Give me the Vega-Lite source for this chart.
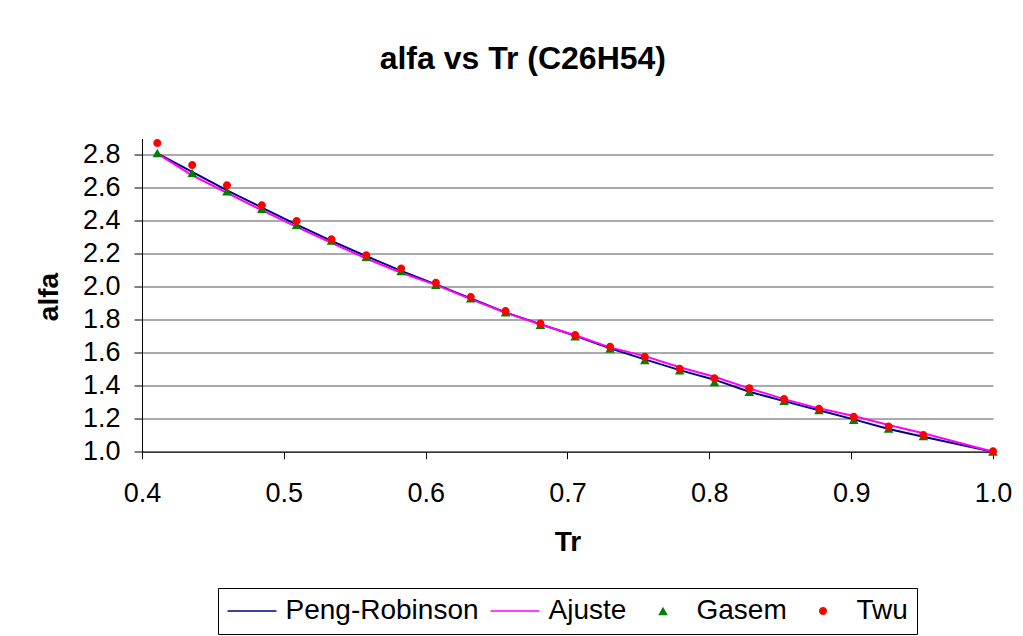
{
  "$schema": "https://vega.github.io/schema/vega-lite/v6.json",
  "width": 851,
  "height": 313.2,
  "autosize": {"type": "none"},
  "padding": {"left": 142, "top": 138.5, "right": 30, "bottom": 184.3},
  "background": "white",
  "title": {
    "text": "alfa vs Tr (C26H54)",
    "font": "Liberation Sans",
    "fontSize": 32,
    "fontWeight": "bold",
    "color": "#000000",
    "anchor": "middle",
    "frame": "group",
    "baseline": "alphabetic",
    "offset": 37.5,
    "dx": -44.7
  },
  "config": {
    "view": {"stroke": null},
    "font": "Liberation Sans",
    "axis": {
      "labelFont": "Liberation Sans",
      "labelFontSize": 27,
      "labelColor": "#000000",
      "titleFont": "Liberation Sans",
      "titleFontSize": 28,
      "titleFontWeight": "bold",
      "titleColor": "#000000",
      "domainColor": "#000000",
      "domainWidth": 1,
      "tickColor": "#000000",
      "tickWidth": 1
    },
    "legend": {
      "labelFont": "Liberation Sans",
      "labelFontSize": 28,
      "labelColor": "#000000",
      "labelLimit": 0
    }
  },
  "data": {
    "values": [
      {"Tr": 0.4108, "series": "Peng-Robinson", "alfa": 2.810},
      {"Tr": 0.4354, "series": "Peng-Robinson", "alfa": 2.697},
      {"Tr": 0.4599, "series": "Peng-Robinson", "alfa": 2.585},
      {"Tr": 0.4845, "series": "Peng-Robinson", "alfa": 2.481},
      {"Tr": 0.5090, "series": "Peng-Robinson", "alfa": 2.378},
      {"Tr": 0.5336, "series": "Peng-Robinson", "alfa": 2.279},
      {"Tr": 0.5581, "series": "Peng-Robinson", "alfa": 2.186},
      {"Tr": 0.5827, "series": "Peng-Robinson", "alfa": 2.097},
      {"Tr": 0.6072, "series": "Peng-Robinson", "alfa": 2.015},
      {"Tr": 0.6318, "series": "Peng-Robinson", "alfa": 1.930},
      {"Tr": 0.6563, "series": "Peng-Robinson", "alfa": 1.845},
      {"Tr": 0.6809, "series": "Peng-Robinson", "alfa": 1.774},
      {"Tr": 0.7054, "series": "Peng-Robinson", "alfa": 1.703},
      {"Tr": 0.7300, "series": "Peng-Robinson", "alfa": 1.627},
      {"Tr": 0.7545, "series": "Peng-Robinson", "alfa": 1.560},
      {"Tr": 0.7791, "series": "Peng-Robinson", "alfa": 1.495},
      {"Tr": 0.8036, "series": "Peng-Robinson", "alfa": 1.437},
      {"Tr": 0.8282, "series": "Peng-Robinson", "alfa": 1.364},
      {"Tr": 0.8527, "series": "Peng-Robinson", "alfa": 1.307},
      {"Tr": 0.8773, "series": "Peng-Robinson", "alfa": 1.251},
      {"Tr": 0.9018, "series": "Peng-Robinson", "alfa": 1.196},
      {"Tr": 0.9264, "series": "Peng-Robinson", "alfa": 1.138},
      {"Tr": 0.9509, "series": "Peng-Robinson", "alfa": 1.091},
      {"Tr": 1.0000, "series": "Peng-Robinson", "alfa": 1.000},
      {"Tr": 0.4108, "series": "Ajuste", "alfa": 2.808},
      {"Tr": 0.4354, "series": "Ajuste", "alfa": 2.677},
      {"Tr": 0.4599, "series": "Ajuste", "alfa": 2.570},
      {"Tr": 0.4845, "series": "Ajuste", "alfa": 2.465},
      {"Tr": 0.5090, "series": "Ajuste", "alfa": 2.364},
      {"Tr": 0.5336, "series": "Ajuste", "alfa": 2.267},
      {"Tr": 0.5581, "series": "Ajuste", "alfa": 2.172},
      {"Tr": 0.5827, "series": "Ajuste", "alfa": 2.085},
      {"Tr": 0.6072, "series": "Ajuste", "alfa": 2.012},
      {"Tr": 0.6318, "series": "Ajuste", "alfa": 1.926},
      {"Tr": 0.6563, "series": "Ajuste", "alfa": 1.843},
      {"Tr": 0.6809, "series": "Ajuste", "alfa": 1.772},
      {"Tr": 0.7054, "series": "Ajuste", "alfa": 1.706},
      {"Tr": 0.7300, "series": "Ajuste", "alfa": 1.633},
      {"Tr": 0.7545, "series": "Ajuste", "alfa": 1.580},
      {"Tr": 0.7791, "series": "Ajuste", "alfa": 1.512},
      {"Tr": 0.8036, "series": "Ajuste", "alfa": 1.455},
      {"Tr": 0.8282, "series": "Ajuste", "alfa": 1.384},
      {"Tr": 0.8527, "series": "Ajuste", "alfa": 1.319},
      {"Tr": 0.8773, "series": "Ajuste", "alfa": 1.263},
      {"Tr": 0.9018, "series": "Ajuste", "alfa": 1.216},
      {"Tr": 0.9264, "series": "Ajuste", "alfa": 1.162},
      {"Tr": 0.9509, "series": "Ajuste", "alfa": 1.112},
      {"Tr": 1.0000, "series": "Ajuste", "alfa": 1.000},
      {"Tr": 0.4108, "series": "Gasem", "alfa": 2.812},
      {"Tr": 0.4354, "series": "Gasem", "alfa": 2.691},
      {"Tr": 0.4599, "series": "Gasem", "alfa": 2.580},
      {"Tr": 0.4845, "series": "Gasem", "alfa": 2.474},
      {"Tr": 0.5090, "series": "Gasem", "alfa": 2.376},
      {"Tr": 0.5336, "series": "Gasem", "alfa": 2.280},
      {"Tr": 0.5581, "series": "Gasem", "alfa": 2.182},
      {"Tr": 0.5827, "series": "Gasem", "alfa": 2.095},
      {"Tr": 0.6072, "series": "Gasem", "alfa": 2.012},
      {"Tr": 0.6318, "series": "Gasem", "alfa": 1.930},
      {"Tr": 0.6563, "series": "Gasem", "alfa": 1.845},
      {"Tr": 0.6809, "series": "Gasem", "alfa": 1.770},
      {"Tr": 0.7054, "series": "Gasem", "alfa": 1.700},
      {"Tr": 0.7300, "series": "Gasem", "alfa": 1.626},
      {"Tr": 0.7545, "series": "Gasem", "alfa": 1.556},
      {"Tr": 0.7791, "series": "Gasem", "alfa": 1.493},
      {"Tr": 0.8036, "series": "Gasem", "alfa": 1.422},
      {"Tr": 0.8282, "series": "Gasem", "alfa": 1.363},
      {"Tr": 0.8527, "series": "Gasem", "alfa": 1.308},
      {"Tr": 0.8773, "series": "Gasem", "alfa": 1.252},
      {"Tr": 0.9018, "series": "Gasem", "alfa": 1.194},
      {"Tr": 0.9264, "series": "Gasem", "alfa": 1.140},
      {"Tr": 0.9509, "series": "Gasem", "alfa": 1.094},
      {"Tr": 1.0000, "series": "Gasem", "alfa": 1.000},
      {"Tr": 0.4108, "series": "Twu", "alfa": 2.873},
      {"Tr": 0.4354, "series": "Twu", "alfa": 2.739},
      {"Tr": 0.4599, "series": "Twu", "alfa": 2.616},
      {"Tr": 0.4845, "series": "Twu", "alfa": 2.495},
      {"Tr": 0.5090, "series": "Twu", "alfa": 2.400},
      {"Tr": 0.5336, "series": "Twu", "alfa": 2.289},
      {"Tr": 0.5581, "series": "Twu", "alfa": 2.192},
      {"Tr": 0.5827, "series": "Twu", "alfa": 2.111},
      {"Tr": 0.6072, "series": "Twu", "alfa": 2.024},
      {"Tr": 0.6318, "series": "Twu", "alfa": 1.938},
      {"Tr": 0.6563, "series": "Twu", "alfa": 1.853},
      {"Tr": 0.6809, "series": "Twu", "alfa": 1.778},
      {"Tr": 0.7054, "series": "Twu", "alfa": 1.707},
      {"Tr": 0.7300, "series": "Twu", "alfa": 1.636},
      {"Tr": 0.7545, "series": "Twu", "alfa": 1.576},
      {"Tr": 0.7791, "series": "Twu", "alfa": 1.503},
      {"Tr": 0.8036, "series": "Twu", "alfa": 1.445},
      {"Tr": 0.8282, "series": "Twu", "alfa": 1.384},
      {"Tr": 0.8527, "series": "Twu", "alfa": 1.319},
      {"Tr": 0.8773, "series": "Twu", "alfa": 1.261},
      {"Tr": 0.9018, "series": "Twu", "alfa": 1.212},
      {"Tr": 0.9264, "series": "Twu", "alfa": 1.152},
      {"Tr": 0.9509, "series": "Twu", "alfa": 1.101},
      {"Tr": 1.0000, "series": "Twu", "alfa": 1.003}
    ]
  },
  "encoding": {
    "x": {
      "field": "Tr",
      "type": "quantitative",
      "scale": {"domain": [0.4, 1.0], "nice": false, "zero": false},
      "axis": {
        "title": "Tr",
        "values": [0.4, 0.5, 0.6, 0.7, 0.8, 0.9, 1.0],
        "format": ".1f",
        "grid": false,
        "tickSize": 7,
        "labelPadding": 22,
        "labelFlush": false,
        "labelOverlap": false,
        "titleBaseline": "alphabetic",
        "titleY": 98.3
      }
    },
    "y": {
      "field": "alfa",
      "type": "quantitative",
      "scale": {"domain": [1.0, 2.9], "nice": false, "zero": false},
      "axis": {
        "title": "alfa",
        "values": [1.0, 1.2, 1.4, 1.6, 1.8, 2.0, 2.2, 2.4, 2.6, 2.8],
        "format": ".1f",
        "grid": true,
        "gridColor": "#555555",
        "gridWidth": 1,
        "gridOpacity": 1,
        "tickSize": 8,
        "labelPadding": 14,
        "labelFlush": false,
        "labelOverlap": false,
        "titleBaseline": "alphabetic",
        "titleAngle": -90,
        "titleX": -85,
        "titleY": 158
      }
    }
  },
  "layer": [
    {
      "transform": [{"filter": "datum.series === 'Peng-Robinson'"}],
      "mark": {"type": "line", "color": "#000080", "strokeWidth": 2},
      "encoding": {}
    },
    {
      "transform": [{"filter": "datum.series === 'Ajuste'"}],
      "mark": {"type": "line", "color": "#FF00FF", "strokeWidth": 2},
      "encoding": {}
    },
    {
      "transform": [{"filter": "datum.series === 'Gasem' || datum.series === 'Twu'"}],
      "mark": {"type": "point", "filled": true, "size": 600, "opacity": 1, "strokeWidth": 0},
      "encoding": {
        "color": {
          "field": "series",
          "type": "nominal",
          "scale": {
            "domain": ["Peng-Robinson", "Ajuste", "Gasem", "Twu"],
            "range": ["#000080", "#FF00FF", "#008000", "#FF0000"]
          },
          "legend": {
            "title": null,
            "orient": "none",
            "direction": "horizontal",
            "columns": 4,
            "legendX": 76,
            "legendY": 449.5,
            "padding": 9,
            "strokeColor": "#000000",
            "fillColor": "#FFFFFF",
            "symbolSize": 600,
            "symbolStrokeWidth": 0,
            "symbolOffset": 11,
            "labelOffset": 19.5,
            "columnPadding": 11,
            "labelFontSize": 28,
            "labelLimit": 0
          }
        },
        "shape": {
          "field": "series",
          "type": "nominal",
          "scale": {
            "domain": ["Peng-Robinson", "Ajuste", "Gasem", "Twu"],
            "range": [
              "M-2,-0.065H2V0.065H-2Z",
              "M-2,-0.065H2V0.065H-2Z",
              "M-2,0M0,-0.34L0.39,0.34L-0.39,0.34ZM2,0",
              "M-2,0M0.33,0A0.33,0.33,0,1,1,-0.33,0A0.33,0.33,0,1,1,0.33,0ZM2,0"
            ]
          },
          "legend": {
            "title": null,
            "orient": "none",
            "direction": "horizontal",
            "columns": 4,
            "legendX": 76,
            "legendY": 449.5,
            "padding": 9,
            "strokeColor": "#000000",
            "fillColor": "#FFFFFF",
            "symbolSize": 600,
            "symbolStrokeWidth": 0,
            "symbolOffset": 11,
            "labelOffset": 19.5,
            "columnPadding": 11,
            "labelFontSize": 28,
            "labelLimit": 0
          }
        }
      }
    }
  ]
}
